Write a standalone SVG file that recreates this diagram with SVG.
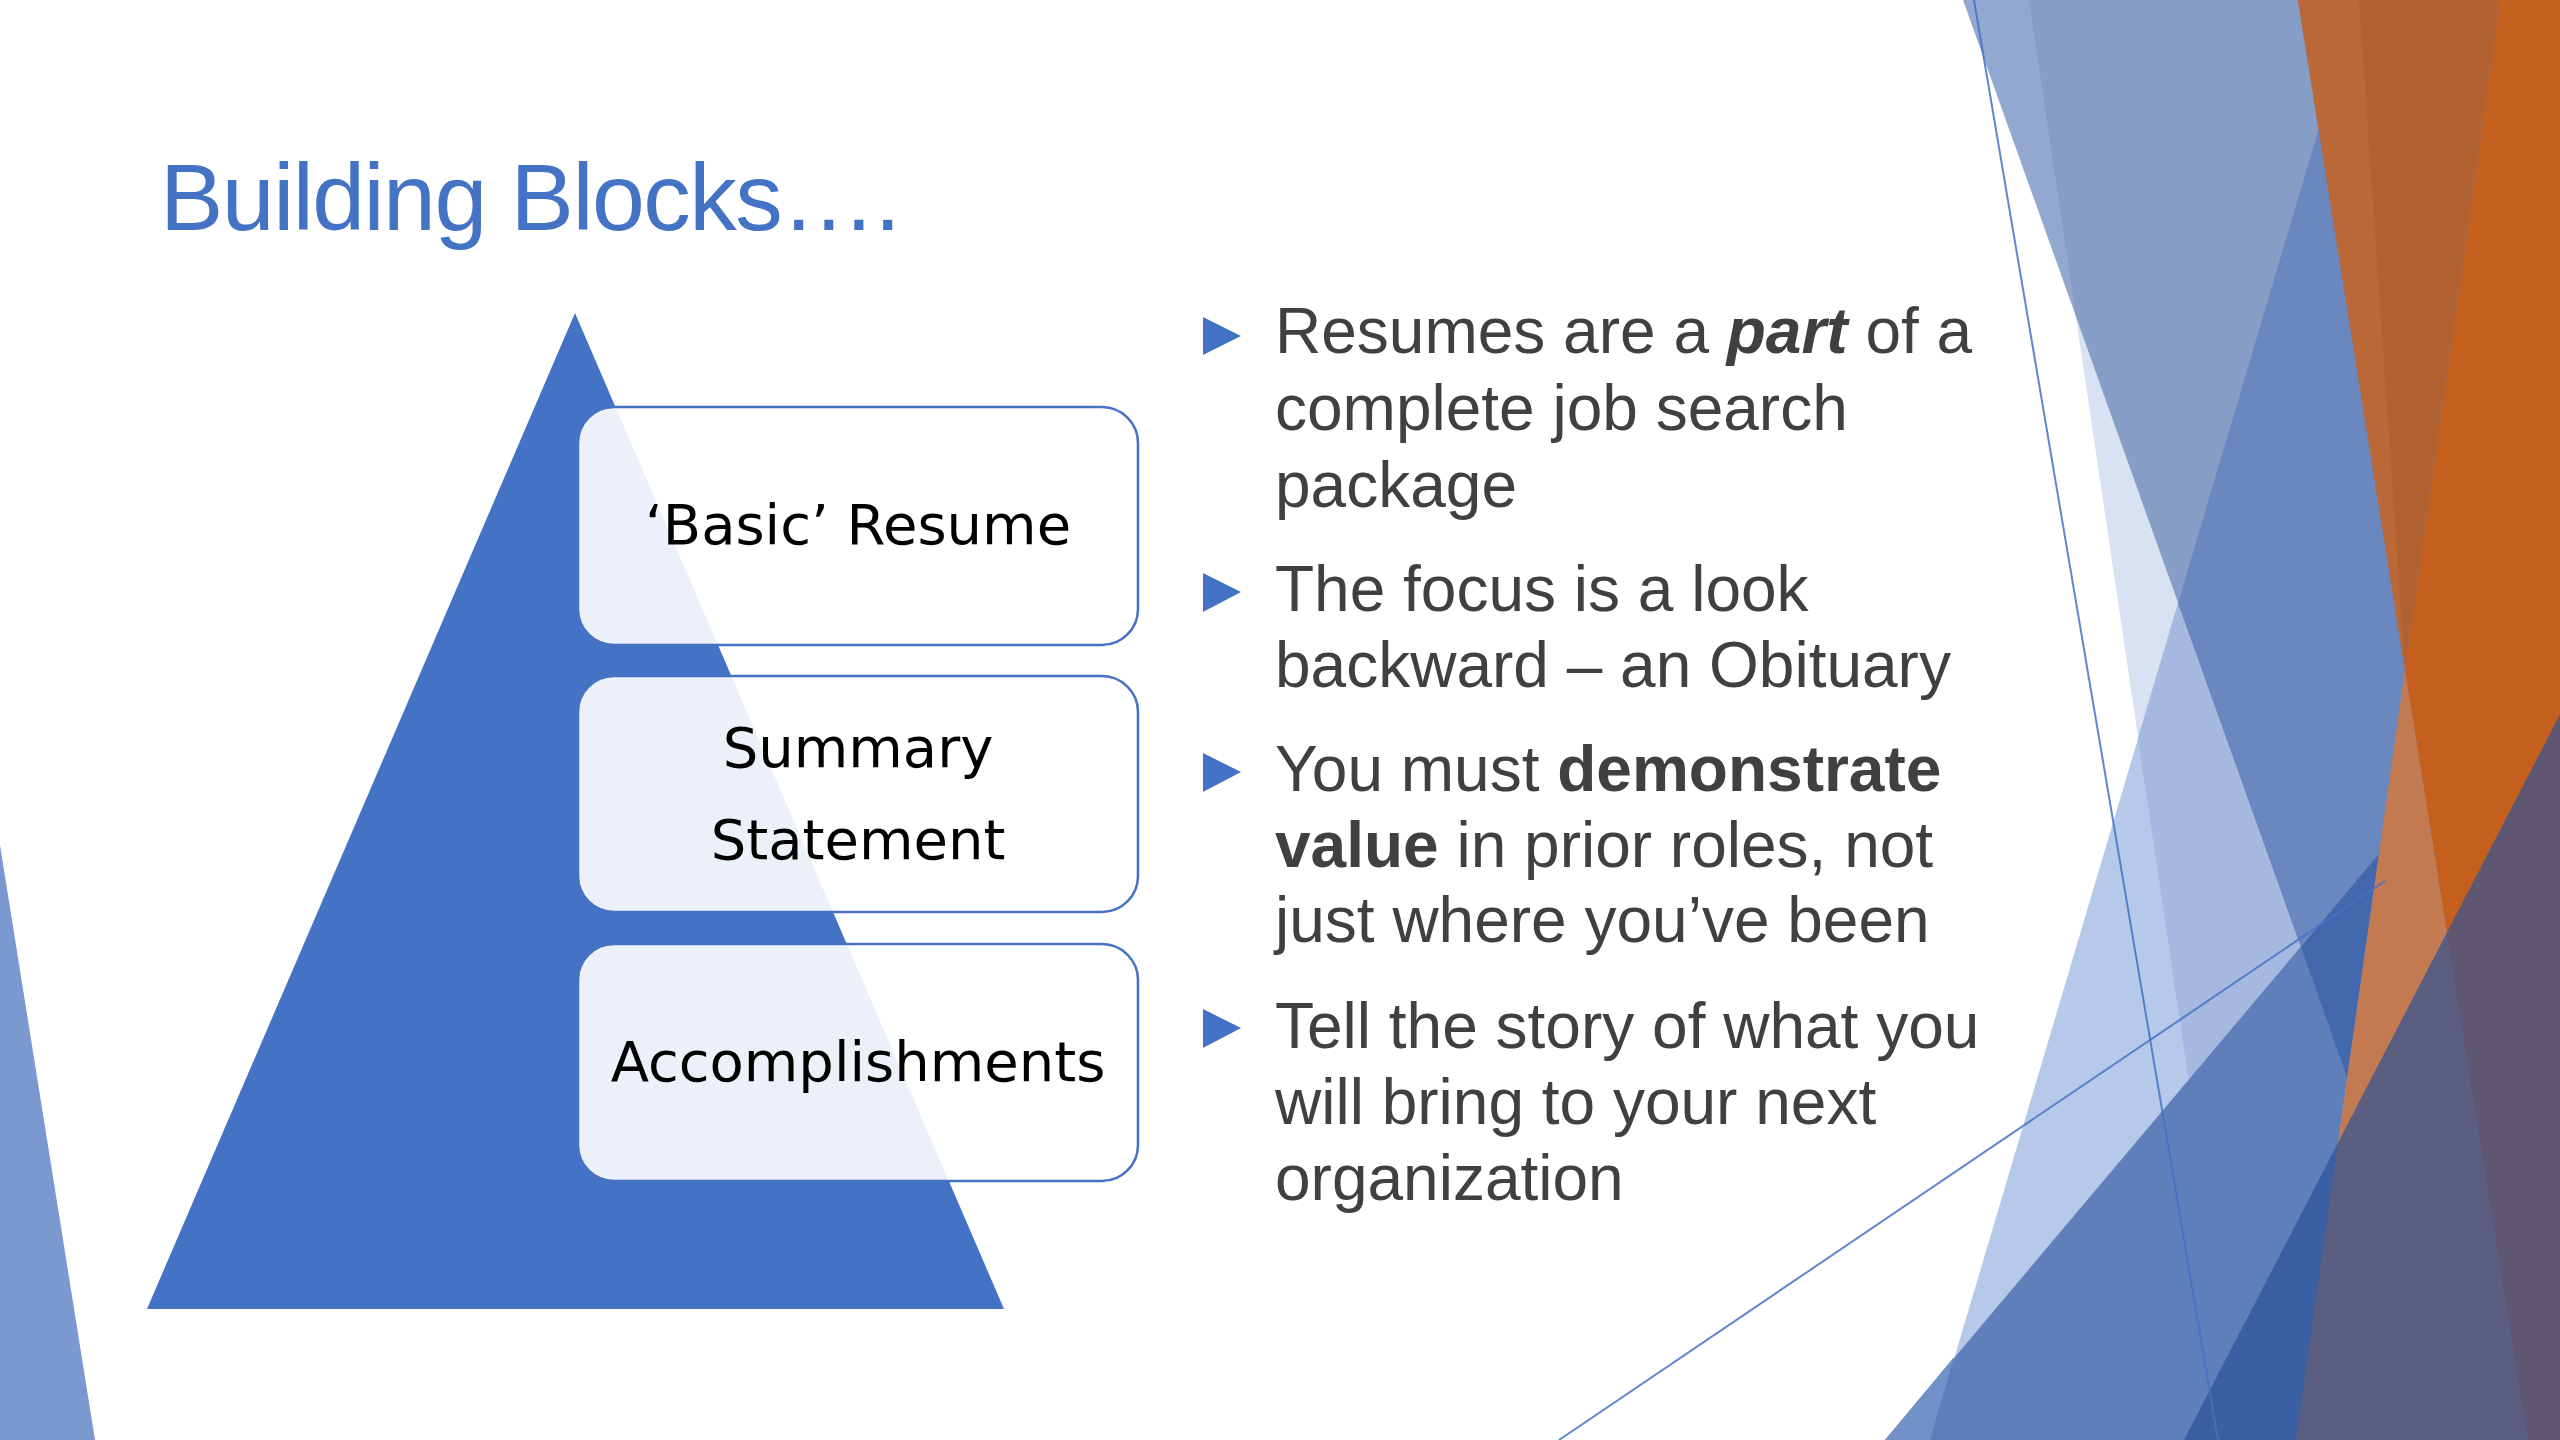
<svg xmlns="http://www.w3.org/2000/svg" width="2560" height="1440" viewBox="0 0 2560 1440">
<style>
.title{font-family:"Liberation Sans",Arial,sans-serif;font-size:95px;fill:#4472C4}
.b{font-family:"Liberation Sans",Arial,sans-serif;font-size:64px;fill:#404040}
.lbl{font-family:"DejaVu Sans",Verdana,sans-serif;font-size:56px;fill:#000;text-anchor:middle}
.box{fill:#ffffff;fill-opacity:0.9;stroke:#4472C4;stroke-width:2.5}
.bul{fill:#4472C4}
.thin{stroke:#4472C4;stroke-width:2;fill:none;stroke-opacity:0.85}
</style>
<rect width="2560" height="1440" fill="#ffffff"/>

<g id="decor-left">
<polygon points="0,845 95,1440 0,1440" fill="#7B98D0"/>
</g>

<g id="decor-right">
<polygon points="2029,0 2560,0 2560,1440 2242,1440" fill="#D9E2F3"/>
<polygon points="2357,0 2560,0 2560,1440 1930,1440" fill="#B7C9EA"/>
<polygon points="2357,0 2560,0 2560,1440 2242,1440 2138,738" fill="#A5B8E0"/>
<polygon points="1963,0 2560,0 2560,1440 2477,1440" fill="#93A8D1"/>
<polygon points="2029,0 2560,0 2560,1440 2477,1440 2076,316" fill="#869DC6"/>
<polygon points="2357,0 2560,0 2560,1440 2477,1440 2178,603" fill="#6A88BF"/>
<polygon points="1885,1440 2379,854 2296,1440" fill="#5E7FB9"/>
<polygon points="1885,1440 1954,1357 1930,1440" fill="#7291C9"/>
<polygon points="2301,947 2379,854 2347,1077" fill="#4468AD"/>
<polygon points="2298,0 2500,0 2405,670" fill="#B26131"/>
<polygon points="2298,0 2359,0 2405,670" fill="#BB6838"/>
<polygon points="2500,0 2560,0 2560,715 2447,933 2405,670" fill="#C55F1E"/>
<polygon points="2405,670 2447,933 2338,1143" fill="#C47A50"/>
<polygon points="2560,715 2560,1440 2184,1440" fill="#3B5FA3"/>
<polygon points="2338,1143 2560,715 2560,1440 2296,1440" fill="#5B5E80"/>
<polygon points="2447,933 2560,715 2560,1440 2528,1440" fill="#5F5672"/>
<line class="thin" x1="1974" y1="0" x2="2218" y2="1440"/>
<line class="thin" x1="1559" y1="1440" x2="2385" y2="881"/>
</g>

<g id="title">
<text class="title" x="160" y="230" textLength="741">Building Blocks….</text>
</g>

<g id="pyramid">
<polygon points="575,313 1004,1309 147,1309" fill="#4472C4"/>
</g>

<g id="node-basic-resume">
<rect class="box" x="578" y="407" width="560" height="238" rx="36" ry="36"/>
<text class="lbl" x="858" y="544">‘Basic’ Resume</text>
</g>
<g id="node-summary-statement">
<rect class="box" x="578" y="676" width="560" height="236" rx="36" ry="36"/>
<text class="lbl" x="858" y="767">Summary</text>
<text class="lbl" x="858" y="859">Statement</text>
</g>
<g id="node-accomplishments">
<rect class="box" x="578" y="944" width="560" height="237" rx="36" ry="36"/>
<text class="lbl" x="858" y="1081">Accomplishments</text>
</g>

<g id="connectors"></g>

<g id="bullets">
<polygon class="bul" points="1203,317 1241,336 1203,355"/>
<text class="b" x="1275" y="353">Resumes are a <tspan font-weight="bold" font-style="italic">part</tspan> of a</text>
<text class="b" x="1275" y="430">complete job search</text>
<text class="b" x="1275" y="507">package</text>

<polygon class="bul" points="1203,573 1241,592 1203,612"/>
<text class="b" x="1275" y="611">The focus is a look</text>
<text class="b" x="1275" y="687">backward – an Obituary</text>

<polygon class="bul" points="1203,753 1241,772 1203,792"/>
<text class="b" x="1275" y="791">You must <tspan font-weight="bold">demonstrate</tspan></text>
<text class="b" x="1275" y="867"><tspan font-weight="bold">value</tspan> in prior roles, not</text>
<text class="b" x="1275" y="942">just where you’ve been</text>

<polygon class="bul" points="1203,1009 1241,1028 1203,1048"/>
<text class="b" x="1275" y="1048">Tell the story of what you</text>
<text class="b" x="1275" y="1124">will bring to your next</text>
<text class="b" x="1275" y="1200">organization</text>
</g>
</svg>
